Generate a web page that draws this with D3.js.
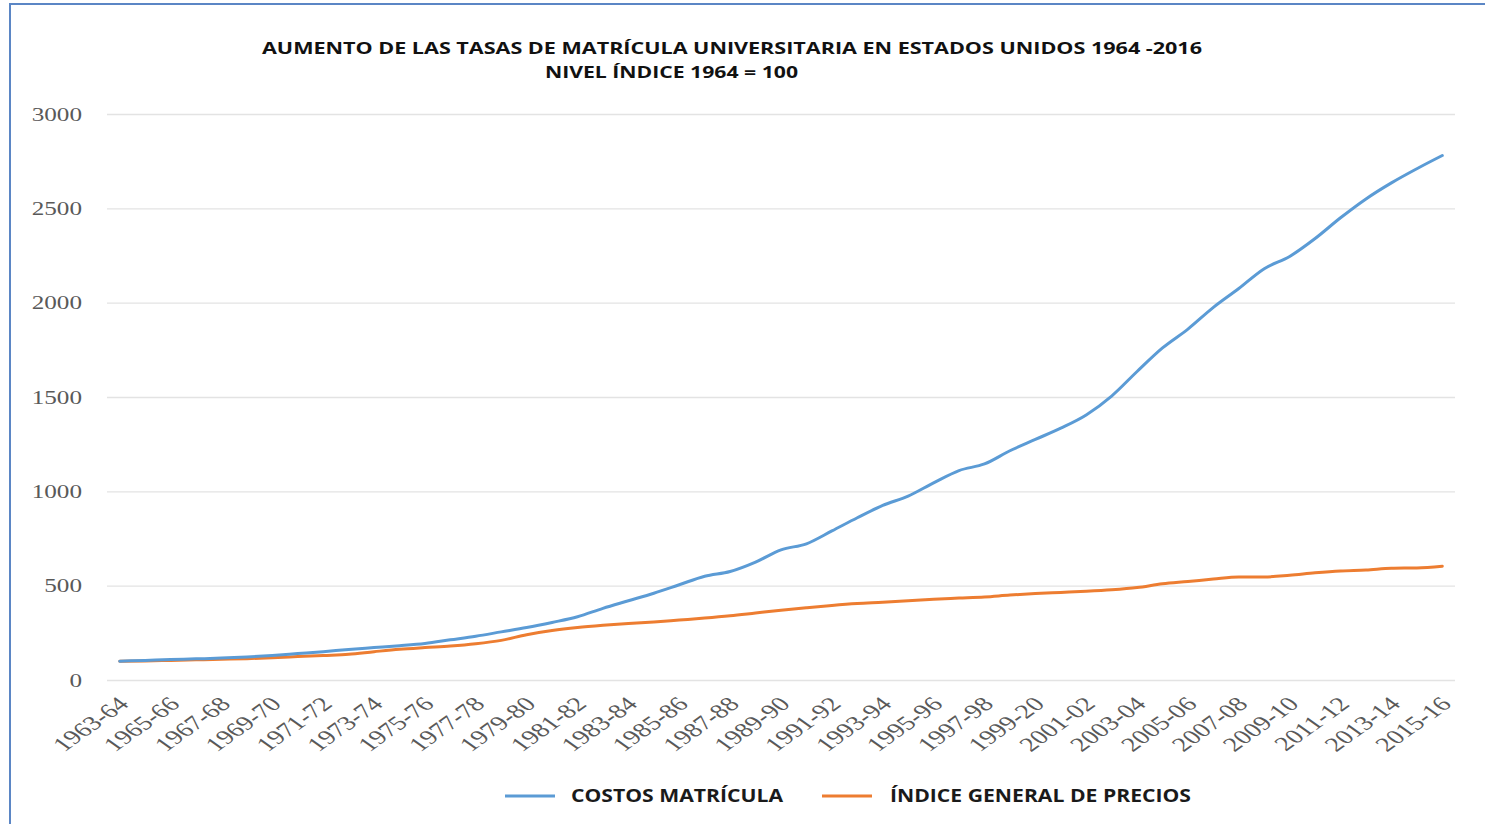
<!DOCTYPE html>
<html>
<head>
    <title>Tasas de matrícula</title>
    <style>
        body { margin: 0; background: #fff; }
    </style>
</head>
<body>
<svg id="chart" width="1485" height="824"></svg>

<script src="https://d3js.org/d3.v7.min.js"></script>
<script type="text/javascript">

// academic years, 1963-64 .. 2015-16 (the source labels 1999-2000 as "1999-20")
const years = [
    '1963-64', '1964-65', '1965-66', '1966-67', '1967-68', '1968-69', '1969-70',
    '1970-71', '1971-72', '1972-73', '1973-74', '1974-75', '1975-76', '1976-77',
    '1977-78', '1978-79', '1979-80', '1980-81', '1981-82', '1982-83', '1983-84',
    '1984-85', '1985-86', '1986-87', '1987-88', '1988-89', '1989-90', '1990-91',
    '1991-92', '1992-93', '1993-94', '1994-95', '1995-96', '1996-97', '1997-98',
    '1998-99', '1999-20', '2000-01', '2001-02', '2002-03', '2003-04', '2004-05',
    '2005-06', '2006-07', '2007-08', '2008-09', '2009-10', '2010-11', '2011-12',
    '2012-13', '2013-14', '2014-15', '2015-16'
];

const costosMatricula = [
    100, 104, 108, 112, 116, 122, 130, 140, 150, 162, 172, 182, 194, 213,
    232, 255, 278, 305, 335, 380, 420, 460, 505, 550, 575, 625, 690, 722,
    790, 860, 925, 975, 1045, 1110, 1145, 1215, 1275, 1335, 1405, 1505, 1635,
    1760, 1860, 1975, 2075, 2180, 2245, 2340, 2450, 2550, 2635, 2710, 2780
];

const indicePrecios = [
    100, 101, 104, 107, 110, 113, 118, 124, 130, 136, 150, 163, 172, 180,
    192, 210, 240, 262, 278, 290, 300, 308, 318, 328, 340, 355, 370, 383,
    395, 405, 412, 420, 428, 434, 440, 450, 458, 464, 470, 478, 490, 510,
    522, 535, 546, 546, 555, 568, 578, 583, 592, 594, 603
];

const yTicks = [0, 500, 1000, 1500, 2000, 2500, 3000];

const seriesNames = ['COSTOS MATRÍCULA', 'ÍNDICE GENERAL DE PRECIOS'];
const seriesColors = ['#5b9bd5', '#ed7d31'];

const titleLines = [
    'AUMENTO DE LAS TASAS DE MATRÍCULA UNIVERSITARIA EN ESTADOS UNIDOS 1964 -2016',
    'NIVEL ÍNDICE 1964 = 100'
];

const STRETCH = 1.4;   // the source picture is squashed wide

function render() {
    const svg = d3.select('#chart');

    // outer frame
    svg.append('rect')
        .attr('x', 10).attr('y', 4)
        .attr('width', 1490).attr('height', 840)
        .attr('fill', 'none')
        .attr('stroke', '#5b86c5')
        .attr('stroke-width', 2);

    const x = d3.scalePoint()
        .domain(years)
        .range([107, 1455])
        .padding(0.5);

    const y = d3.scaleLinear()
        .domain([0, 3000])
        .range([680, 114]);

    // gridlines + y labels
    svg.append('g')
        .attr('class', 'y-axis')
        .attr('transform', 'translate(107,0)')
        .call(d3.axisLeft(y)
            .tickValues(yTicks)
            .tickSize(-1348)
            .tickPadding(0)
            .tickFormat(d3.format('d')))
        .call(g => g.select('.domain').remove())
        .call(g => g.selectAll('.tick line')
            .attr('stroke', '#e3e3e3')
            .attr('stroke-width', 1.3))
        .call(g => g.selectAll('.tick text')
            .attr('x', -25 / STRETCH)
            .attr('dy', '0.34em')
            .attr('transform', `scale(${STRETCH},1)`)
            .attr('fill', '#595959')
            .style('font-family', '"Liberation Serif", "DejaVu Serif", serif')
            .style('font-size', '18px'));

    // x labels, every other year
    svg.append('g')
        .attr('class', 'x-axis')
        .attr('transform', 'translate(0,699)')
        .call(d3.axisBottom(x)
            .tickValues(years.filter((d, i) => i % 2 === 0))
            .tickSize(0)
            .tickPadding(0))
        .call(g => g.select('.domain').remove())
        .call(g => g.selectAll('.tick text')
            .attr('y', 0)
            .attr('dy', '0.3em')
            .attr('text-anchor', 'end')
            .attr('transform', `translate(4,2) scale(${STRETCH},1) rotate(-45)`)
            .attr('fill', '#595959')
            .style('font-family', '"Liberation Serif", "DejaVu Serif", serif')
            .style('font-size', '20px'));

    // lines
    const series = [costosMatricula, indicePrecios];
    const line = d3.line()
        .x((d, i) => x(years[i]))
        .y(d => y(d))
        .curve(d3.curveMonotoneX);

    svg.append('g')
        .attr('class', 'lines')
        .selectAll('path')
        .data(series.slice().reverse())
        .join('path')
            .attr('d', line)
            .attr('fill', 'none')
            .attr('stroke', (d, i) => seriesColors[1 - i])
            .attr('stroke-width', 3)
            .attr('stroke-linejoin', 'round')
            .attr('stroke-linecap', 'round');

    // title
    const titleWidths = [940, 253];
    svg.append('g')
        .attr('class', 'title')
        .selectAll('text')
        .data(titleLines)
        .join('text')
            .attr('x', (d, i) => i === 0 ? 262 : 545)
            .attr('y', (d, i) => 54 + i * 24)
            .attr('textLength', (d, i) => titleWidths[i])
            .attr('lengthAdjust', 'spacingAndGlyphs')
            .style('font-family', '"Open Sans", "Liberation Sans", sans-serif')
            .style('font-weight', 700)
            .style('font-size', '16px')
            .attr('fill', '#111')
            .text(d => d);

    // legend
    const legendX = [505, 822];
    const legendTextW = [212, 301];
    const legend = svg.append('g')
        .attr('class', 'legend')
        .selectAll('g')
        .data(seriesNames)
        .join('g')
            .attr('transform', (d, i) => `translate(${legendX[i]},796)`);

    legend.append('line')
        .attr('x1', 0).attr('x2', 50)
        .attr('stroke', (d, i) => seriesColors[i])
        .attr('stroke-width', 3);

    legend.append('text')
        .attr('x', (d, i) => i === 0 ? 66 : 68)
        .attr('y', 6)
        .attr('textLength', (d, i) => legendTextW[i])
        .attr('lengthAdjust', 'spacingAndGlyphs')
        .style('font-family', '"Open Sans", "Liberation Sans", sans-serif')
        .style('font-weight', 700)
        .style('font-size', '17px')
        .attr('fill', '#1a1a1a')
        .text(d => d);
}

render();

</script>
</body>
</html>
